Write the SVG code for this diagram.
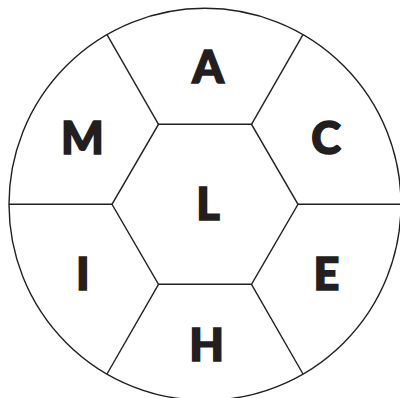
<svg xmlns="http://www.w3.org/2000/svg" width="400" height="398" viewBox="0 0 400 398">
<style>
.ln{fill:none;stroke:#231f20;stroke-width:1.4}
.t{font-family:Lato,"Liberation Sans",sans-serif;font-weight:900;font-size:45px;fill:#231f20;stroke:#231f20;stroke-width:1.6;stroke-linejoin:miter;text-anchor:middle}
</style>
<rect width="400" height="398" fill="#fff"/>
<g id="connectors">
<circle class="ln" cx="205" cy="204.3" r="196"/>
<line class="ln" x1="158.5" y1="124.3" x2="107" y2="34.6"/>
<line class="ln" x1="251.5" y1="124.3" x2="303" y2="34.6"/>
<line class="ln" x1="112" y1="204.3" x2="9" y2="204.3"/>
<line class="ln" x1="298" y1="204.3" x2="401" y2="204.3"/>
<line class="ln" x1="158.5" y1="284.3" x2="107" y2="374"/>
<line class="ln" x1="251.5" y1="284.3" x2="303" y2="374"/>
</g>
<g id="L"><polygon class="ln" points="158.5,124.3 251.5,124.3 298,204.3 251.5,284.3 158.5,284.3 112,204.3"/><text class="t" x="208" y="219.5">L</text></g>
<g id="A"><text class="t" x="208" y="82.5">A</text></g>
<g id="M"><text class="t" x="82.5" y="153.5">M</text></g>
<g id="C"><text class="t" x="326" y="153.5">C</text></g>
<g id="I"><text class="t" x="82.7" y="289.5">I</text></g>
<g id="E"><text class="t" x="326.5" y="289.5">E</text></g>
<g id="H"><text class="t" x="206.7" y="360.5">H</text></g>
</svg>
